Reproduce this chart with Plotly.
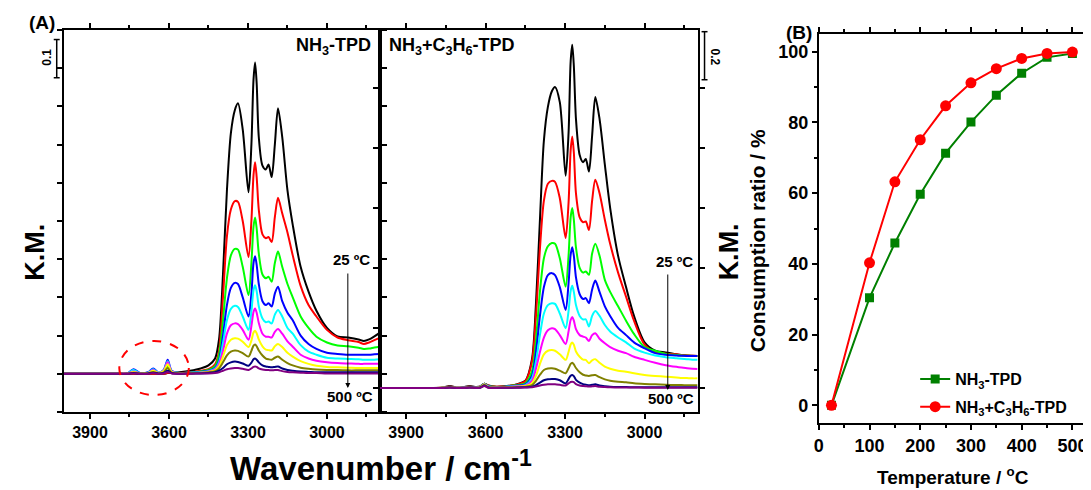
import plotly.graph_objects as go

# ---------------- data ----------------
WN = [4000, 3800, 3760, 3735, 3710, 3680, 3660, 3640, 3620, 3605,
      3590, 3560, 3520, 3480, 3450, 3425, 3410, 3395, 3380, 3365,
      3350, 3338, 3320, 3298, 3287, 3279, 3273, 3267, 3259, 3245,
      3232, 3222, 3210, 3198, 3186, 3170, 3150, 3130, 3100, 3070,
      3040, 3000, 2960, 2920, 2880, 2860, 2840, 2820, 2800]

temps_spec = ["25", "100", "150", "200", "250", "300", "350", "400", "450", "500"]
spec_colors = ["#000000", "#FF0000", "#00FF00", "#0000FF", "#00FFFF",
               "#FF00FF", "#FFFF00", "#808000", "#000080", "#800080"]

# NH3-TPD spectra (K.M.)
nh3_25 = [0, 0, 0, 0, 0, 0, 0, 0, 0, 0.002,
          0.002, 0.004, 0.008, 0.014, 0.022, 0.04, 0.09, 0.26, 0.48, 0.63,
          0.69, 0.708, 0.64, 0.475, 0.6, 0.77, 0.815, 0.76, 0.62, 0.545,
          0.535, 0.548, 0.515, 0.6, 0.695, 0.62, 0.48, 0.39, 0.28, 0.215,
          0.165, 0.12, 0.098, 0.095, 0.09, 0.086, 0.09, 0.098, 0.107]
nh3_100 = [0, 0, 0, 0, 0, 0, 0, 0, 0, 0.003,
           0.002, 0.002, 0.004, 0.008, 0.012, 0.025, 0.06, 0.2, 0.36, 0.43,
           0.452, 0.45, 0.40, 0.306, 0.40, 0.52, 0.554, 0.515, 0.43, 0.365,
           0.355, 0.358, 0.345, 0.41, 0.461, 0.42, 0.37, 0.31, 0.23, 0.18,
           0.15, 0.115, 0.095, 0.088, 0.083, 0.078, 0.082, 0.088, 0.094]
nh3_150 = [0, 0, 0, 0.004, 0.001, 0.002, 0.006, 0.002, 0.006, 0.02,
           0.006, 0.002, 0.003, 0.006, 0.01, 0.02, 0.05, 0.14, 0.25, 0.31,
           0.327, 0.325, 0.28, 0.206, 0.29, 0.385, 0.409, 0.38, 0.315, 0.26,
           0.25, 0.254, 0.241, 0.29, 0.32, 0.28, 0.235, 0.2, 0.15, 0.12,
           0.097, 0.082, 0.074, 0.072, 0.068, 0.065, 0.066, 0.069, 0.071]
nh3_200 = [0, 0, 0, 0.012, 0.002, 0.004, 0.014, 0.003, 0.01, 0.037,
           0.008, 0.002, 0.003, 0.005, 0.008, 0.015, 0.035, 0.1, 0.18, 0.225,
           0.238, 0.235, 0.2, 0.15, 0.21, 0.29, 0.308, 0.285, 0.235, 0.19,
           0.18, 0.185, 0.176, 0.21, 0.228, 0.19, 0.16, 0.14, 0.1, 0.078,
           0.065, 0.055, 0.052, 0.05, 0.05, 0.05, 0.05, 0.051, 0.052]
nh3_250 = [0, 0, 0, 0.01, 0.002, 0.003, 0.012, 0.003, 0.009, 0.033,
           0.007, 0.002, 0.003, 0.004, 0.007, 0.013, 0.03, 0.08, 0.14, 0.17,
           0.178, 0.175, 0.15, 0.115, 0.163, 0.219, 0.232, 0.216, 0.177, 0.145,
           0.135, 0.137, 0.132, 0.155, 0.167, 0.15, 0.12, 0.105, 0.075, 0.058,
           0.05, 0.042, 0.04, 0.039, 0.038, 0.037, 0.037, 0.037, 0.038]
nh3_300 = [0, 0, 0, 0.006, 0.001, 0.002, 0.01, 0.002, 0.008, 0.03,
           0.006, 0.001, 0.002, 0.003, 0.006, 0.011, 0.025, 0.06, 0.105, 0.127,
           0.132, 0.13, 0.115, 0.089, 0.125, 0.162, 0.171, 0.16, 0.133, 0.105,
           0.097, 0.097, 0.095, 0.11, 0.117, 0.105, 0.085, 0.071, 0.05, 0.04,
           0.034, 0.03, 0.028, 0.027, 0.026, 0.026, 0.026, 0.026, 0.026]
nh3_350 = [0, 0, 0, 0.005, 0.001, 0.002, 0.008, 0.002, 0.007, 0.025,
           0.005, 0.001, 0.002, 0.003, 0.005, 0.009, 0.02, 0.045, 0.075, 0.089,
           0.093, 0.092, 0.084, 0.07, 0.087, 0.108, 0.113, 0.106, 0.09, 0.072,
           0.063, 0.062, 0.061, 0.072, 0.078, 0.07, 0.055, 0.045, 0.033, 0.026,
           0.021, 0.018, 0.017, 0.016, 0.015, 0.015, 0.015, 0.015, 0.015]
nh3_400 = [0, 0, 0, 0.003, 0.001, 0.001, 0.005, 0.001, 0.004, 0.015,
           0.003, 0.001, 0.001, 0.002, 0.004, 0.007, 0.014, 0.03, 0.048, 0.058,
           0.061, 0.06, 0.054, 0.045, 0.06, 0.074, 0.077, 0.072, 0.061, 0.048,
           0.04, 0.038, 0.037, 0.042, 0.045, 0.037, 0.028, 0.022, 0.016, 0.013,
           0.011, 0.01, 0.01, 0.009, 0.009, 0.009, 0.009, 0.009, 0.009]
nh3_450 = [0, 0, 0, 0.002, 0, 0.001, 0.003, 0.001, 0.002, 0.008,
           0.002, 0, 0.001, 0.001, 0.002, 0.004, 0.008, 0.015, 0.025, 0.03,
           0.032, 0.031, 0.027, 0.021, 0.029, 0.038, 0.04, 0.037, 0.03, 0.022,
           0.019, 0.018, 0.017, 0.018, 0.019, 0.014, 0.01, 0.008, 0.006, 0.005,
           0.004, 0.004, 0.004, 0.004, 0.004, 0.004, 0.004, 0.004, 0.004]
nh3_500 = [0, 0, 0, 0.001, 0, 0, 0.002, 0, 0.001, 0.005,
           0.001, 0, 0, 0.001, 0.001, 0.002, 0.004, 0.008, 0.012, 0.014,
           0.015, 0.015, 0.013, 0.01, 0.014, 0.018, 0.019, 0.018, 0.014, 0.011,
           0.01, 0.01, 0.009, 0.01, 0.01, 0.007, 0.005, 0.004, 0.003, 0.002,
           0.002, 0.001, 0.001, 0.001, 0.001, 0.001, 0.001, 0.001, 0.001]

# NH3+C3H6-TPD spectra (K.M.)
mix_25 = [0, 0, 0.002, 0.008, 0.002, 0.004, 0.008, 0.004, 0.006, 0.018,
          0.01, 0.005, 0.008, 0.016, 0.03, 0.12, 0.35, 0.7, 1.03, 1.17,
          1.235, 1.253, 1.19, 0.883, 1.06, 1.36, 1.429, 1.34, 1.12, 0.97,
          0.94, 0.953, 0.901, 1.05, 1.211, 1.12, 0.93, 0.75, 0.55, 0.42,
          0.3, 0.19, 0.155, 0.148, 0.14, 0.137, 0.135, 0.134, 0.133]
mix_100 = [0, 0, 0.002, 0.006, 0.002, 0.003, 0.006, 0.003, 0.005, 0.018,
           0.01, 0.005, 0.008, 0.015, 0.028, 0.11, 0.3, 0.58, 0.78, 0.85,
           0.862, 0.858, 0.79, 0.624, 0.77, 0.99, 1.047, 0.98, 0.81, 0.71,
           0.69, 0.693, 0.658, 0.78, 0.867, 0.81, 0.7, 0.6, 0.48, 0.38,
           0.28, 0.18, 0.15, 0.143, 0.14, 0.137, 0.135, 0.134, 0.133]
mix_150 = [0, 0, 0.001, 0.005, 0.001, 0.002, 0.005, 0.002, 0.004, 0.018,
           0.008, 0.004, 0.007, 0.012, 0.02, 0.07, 0.2, 0.4, 0.54, 0.59,
           0.603, 0.6, 0.54, 0.422, 0.55, 0.71, 0.749, 0.70, 0.585, 0.5,
           0.48, 0.485, 0.471, 0.56, 0.6, 0.55, 0.45, 0.4, 0.34, 0.28,
           0.225, 0.17, 0.155, 0.142, 0.137, 0.135, 0.134, 0.133, 0.133]
mix_200 = [0, 0, 0.001, 0.005, 0.001, 0.002, 0.005, 0.002, 0.004, 0.018,
           0.007, 0.003, 0.006, 0.01, 0.015, 0.05, 0.15, 0.3, 0.42, 0.47,
           0.478, 0.47, 0.42, 0.325, 0.435, 0.555, 0.586, 0.55, 0.46, 0.39,
           0.37, 0.374, 0.353, 0.41, 0.447, 0.4, 0.34, 0.3, 0.25, 0.22,
           0.19, 0.165, 0.145, 0.138, 0.135, 0.134, 0.133, 0.133, 0.133]
mix_250 = [0, 0, 0.001, 0.004, 0.001, 0.002, 0.004, 0.002, 0.004, 0.017,
           0.006, 0.003, 0.005, 0.008, 0.012, 0.04, 0.11, 0.22, 0.31, 0.345,
           0.353, 0.35, 0.31, 0.249, 0.32, 0.405, 0.425, 0.4, 0.345, 0.3,
           0.285, 0.286, 0.256, 0.3, 0.32, 0.3, 0.262, 0.235, 0.21, 0.19,
           0.165, 0.147, 0.135, 0.128, 0.124, 0.122, 0.12, 0.118, 0.117]
mix_300 = [0, 0, 0.001, 0.004, 0.001, 0.002, 0.004, 0.002, 0.003, 0.016,
           0.005, 0.002, 0.004, 0.007, 0.01, 0.03, 0.08, 0.15, 0.21, 0.24,
           0.249, 0.245, 0.22, 0.183, 0.235, 0.283, 0.295, 0.28, 0.245, 0.22,
           0.214, 0.21, 0.196, 0.22, 0.228, 0.205, 0.186, 0.17, 0.155, 0.145,
           0.13, 0.117, 0.105, 0.095, 0.088, 0.085, 0.082, 0.08, 0.079]
mix_350 = [0, 0, 0.001, 0.003, 0.001, 0.001, 0.003, 0.001, 0.003, 0.015,
           0.004, 0.002, 0.003, 0.005, 0.008, 0.02, 0.05, 0.1, 0.14, 0.155,
           0.158, 0.155, 0.14, 0.117, 0.15, 0.181, 0.189, 0.18, 0.152, 0.13,
           0.118, 0.117, 0.103, 0.115, 0.12, 0.105, 0.089, 0.08, 0.072, 0.068,
           0.061, 0.054, 0.05, 0.047, 0.044, 0.042, 0.041, 0.04, 0.04]
mix_400 = [0, 0, 0.001, 0.003, 0, 0.001, 0.003, 0.001, 0.002, 0.012,
           0.003, 0.001, 0.002, 0.003, 0.005, 0.012, 0.03, 0.055, 0.075, 0.081,
           0.082, 0.08, 0.072, 0.061, 0.082, 0.1, 0.105, 0.098, 0.083, 0.065,
           0.055, 0.052, 0.05, 0.053, 0.054, 0.045, 0.036, 0.03, 0.026, 0.024,
           0.02, 0.017, 0.015, 0.013, 0.012, 0.012, 0.011, 0.011, 0.011]
mix_450 = [0, 0, 0, 0.002, 0, 0.001, 0.002, 0.001, 0.002, 0.01,
           0.002, 0.001, 0.001, 0.002, 0.003, 0.005, 0.012, 0.022, 0.032, 0.036,
           0.0375, 0.037, 0.032, 0.019, 0.037, 0.051, 0.054, 0.049, 0.034, 0.022,
           0.016, 0.014, 0.011, 0.013, 0.015, 0.01, 0.007, 0.005, 0.004, 0.004,
           0.003, 0.003, 0.003, 0.003, 0.003, 0.003, 0.003, 0.003, 0.003]
mix_500 = [0, 0, 0, 0.001, 0, 0, 0.001, 0, 0.001, 0.008,
           0.001, 0, 0.001, 0.001, 0.002, 0.003, 0.006, 0.01, 0.013, 0.015,
           0.015, 0.015, 0.013, 0.01, 0.019, 0.025, 0.026, 0.024, 0.016, 0.01,
           0.008, 0.007, 0.006, 0.007, 0.008, 0.005, 0.004, 0.003, 0.002, 0.002,
           0.002, 0.001, 0.001, 0.001, 0.001, 0.001, 0.001, 0.001, 0.001]

# Panel B: consumption ratio
temperature = [25, 100, 150, 200, 250, 300, 350, 400, 450, 500]
ratio_nh3 = [0, 30.4, 45.9, 59.7, 71.3, 80.1, 87.7, 93.9, 98.4, 99.5]
ratio_mix = [0, 40.3, 63.2, 75.1, 84.7, 91.2, 95.2, 98.1, 99.5, 99.9]

nh3_spectra = [nh3_25, nh3_100, nh3_150, nh3_200, nh3_250,
               nh3_300, nh3_350, nh3_400, nh3_450, nh3_500]
mix_spectra = [mix_25, mix_100, mix_150, mix_200, mix_250,
               mix_300, mix_350, mix_400, mix_450, mix_500]

# ---------------- figure ----------------
W, H = 1091, 490
OFF = 8  # page body margin
FONT = "Liberation Sans"


def px(x):
    return (x - OFF) / W


def py(y):
    return 1 - (y - OFF) / H


fig = go.Figure()

for i, (sp, col) in enumerate(zip(nh3_spectra, spec_colors)):
    fig.add_trace(go.Scatter(x=WN, y=sp, mode="lines", xaxis="x", yaxis="y",
                             line=dict(color=col, width=2, shape="spline", smoothing=0.8),
                             name=temps_spec[i] + " °C", showlegend=False, hoverinfo="skip"))
for i, (sp, col) in enumerate(zip(mix_spectra, spec_colors)):
    fig.add_trace(go.Scatter(x=WN, y=sp, mode="lines", xaxis="x2", yaxis="y2",
                             line=dict(color=col, width=2, shape="spline", smoothing=0.8),
                             name=temps_spec[i] + " °C", showlegend=False, hoverinfo="skip"))

fig.add_trace(go.Scatter(x=temperature, y=ratio_nh3, mode="lines+markers",
                         xaxis="x3", yaxis="y3", name="NH<sub>3</sub>-TPD",
                         legendgroup="a",
                         line=dict(color="#008000", width=2),
                         marker=dict(symbol="square", size=9, color="#008000")))
fig.add_trace(go.Scatter(x=temperature, y=ratio_mix, mode="lines+markers",
                         xaxis="x3", yaxis="y3", name="NH<sub>3</sub>+C<sub>3</sub>H<sub>6</sub>-TPD",
                         legendgroup="b",
                         line=dict(color="#FF0000", width=2),
                         marker=dict(symbol="circle", size=11, color="#FF0000")))

tickfont_a = dict(family=FONT, size=16, color="black", weight="bold")
tickfont_b = dict(family=FONT, size=18, color="black", weight="bold")

common_axis = dict(showline=True, linewidth=2, linecolor="black", mirror="ticks",
                   ticks="outside", ticklen=5, tickwidth=2, tickcolor="black",
                   showgrid=False, zeroline=False)
minor_style = dict(ticks="outside", ticklen=3, tickwidth=2, tickcolor="black")

yA0, yA1 = py(412), py(30)

fig.update_layout(
    width=W, height=H,
    margin=dict(l=0, r=0, t=0, b=0),
    paper_bgcolor="white", plot_bgcolor="white",
    font=dict(family=FONT, color="black"),
    xaxis=dict(domain=[px(59), px(377)], anchor="y", range=[4000, 2800],
               tick0=3000, dtick=300, tickfont=tickfont_a,
               minor=dict(dtick=150, **minor_style), **common_axis),
    yaxis=dict(domain=[yA0, yA1], anchor="x", range=[-0.1, 0.9], tick0=0, dtick=0.1,
               showticklabels=False, **common_axis),
    xaxis2=dict(domain=[px(377), px(697)], anchor="y2", range=[4000, 2800],
                tick0=3000, dtick=300, tickfont=tickfont_a,
                minor=dict(dtick=150, **minor_style), **common_axis),
    yaxis2=dict(domain=[yA0, yA1], anchor="x2", range=[-0.1, 1.49], tick0=0, dtick=0.25,
                showticklabels=False, **common_axis),
    xaxis3=dict(domain=[px(819), px(1087)], anchor="y3", range=[0, 525],
                tick0=0, dtick=100, tickfont=tickfont_b,
                minor=dict(dtick=50, **minor_style), **common_axis),
    yaxis3=dict(domain=[py(423), py(34)], anchor="x3", range=[-5, 105],
                tick0=0, dtick=20, tickfont=tickfont_b,
                minor=dict(dtick=10, **minor_style), **common_axis),
    legend=dict(x=px(916), y=py(362), xanchor="left", yanchor="top",
                bgcolor="rgba(0,0,0,0)", tracegroupgap=4,
                font=dict(family=FONT, size=16, color="black", weight="bold")),
)

shapes = []
# dashed ellipse
shapes.append(dict(type="circle", xref="paper", yref="paper",
                   x0=px(115), x1=px(185), y0=py(395), y1=py(341),
                   line=dict(color="#FF0000", width=2, dash="dash")))
# scale bar 0.1 (left panel)
shapes.append(dict(type="line", xref="paper", yref="y", x0=px(52), x1=px(52), y0=0.775, y1=0.875,
                   line=dict(color="black", width=1.5)))
for yy in (0.775, 0.875):
    shapes.append(dict(type="line", xref="paper", yref="y", x0=px(49), x1=px(55), y0=yy, y1=yy,
                       line=dict(color="black", width=1.5)))
# scale bar 0.2 (middle panel)
shapes.append(dict(type="line", xref="paper", yref="y2", x0=px(704), x1=px(704), y0=1.283, y1=1.483,
                   line=dict(color="black", width=1.5)))
for yy in (1.283, 1.483):
    shapes.append(dict(type="line", xref="paper", yref="y2", x0=px(701), x1=px(707), y0=yy, y1=yy,
                       line=dict(color="black", width=1.5)))
fig.update_layout(shapes=shapes)

ann = []


def text(x, y, s, size, angle=0, xanchor="center"):
    ann.append(dict(x=px(x), y=py(y), xref="paper", yref="paper", text=s, showarrow=False,
                    textangle=angle, xanchor=xanchor, yanchor="middle",
                    font=dict(family=FONT, size=size, color="black", weight="bold")))


text(37, 22, "(A)", 19)
text(799, 33, "(B)", 19)
text(370, 46, "NH<sub>3</sub>-TPD", 18, xanchor="right")
text(384, 47, "NH<sub>3</sub>+C<sub>3</sub>H<sub>6</sub>-TPD", 18, xanchor="left")
text(30, 252, "K.M.", 27, angle=-90)
text(729, 252, "K.M.", 27, angle=-90)
text(378, 466, "Wavenumber / cm<sup>-1</sup>", 33)
text(758, 241, "Consumption ratio / %", 21, angle=-90)
text(954, 476, "Temperature / <sup>o</sup>C", 19)
text(42, 57, "0.1", 12, angle=-90)
text(715, 57, "0.2", 12, angle=90)
text(349, 260, "25 ºC", 15)
text(347, 396, "500 ºC", 15)
text(674, 261, "25 ºC", 15)
text(670, 398, "500 ºC", 15)

# arrows 25 -> 500
for xa, y0, y1 in ((345, 272, 388), (667, 273, 390)):
    ann.append(dict(x=px(xa), y=py(y1), xref="paper", yref="paper", ax=0, ay=-(y1 - y0),
                    text="", showarrow=True, arrowhead=2, arrowsize=1, arrowwidth=1,
                    arrowcolor="black"))

fig.update_layout(annotations=ann)

fig.write_html("out.html")
